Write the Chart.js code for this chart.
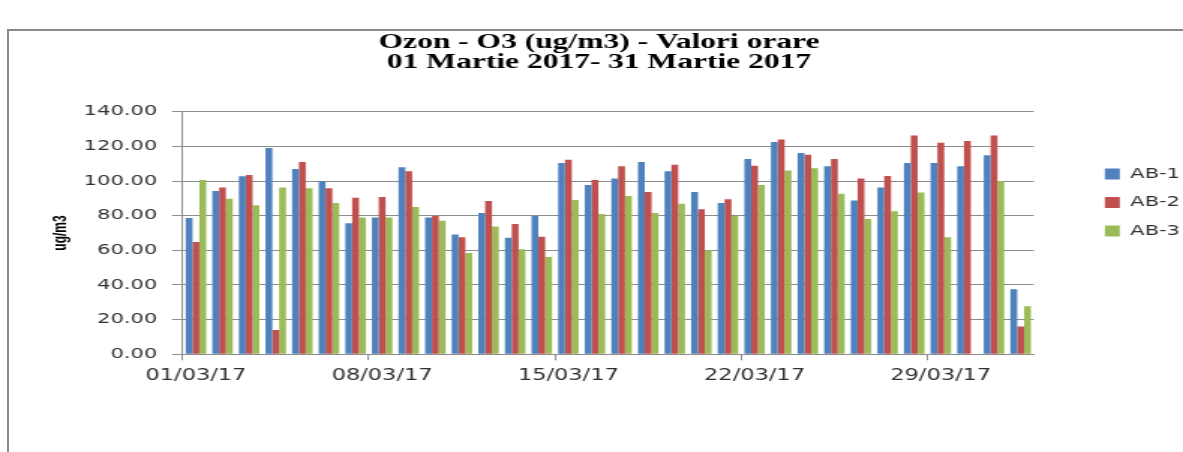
<!DOCTYPE html>
<html>
<head>
<meta charset="utf-8">
<script src="https://cdn.jsdelivr.net/npm/chart.js@4"></script>
<style>
  html, body { margin: 0; padding: 0; background: #fff; width: 1183px; height: 452px; overflow: hidden; }
  #frame { position: absolute; left: 7px; top: 29px; width: 1300px; height: 600px;
           border-left: 2px solid #8a8a8a; border-top: 2px solid #8a8a8a; }
  #wrap { position: absolute; left: 0; top: 0; width: 789px; height: 452px;
          transform: scaleX(1.49937); transform-origin: 0 0; }
  #c { display: block; }
</style>
</head>
<body>
<div id="frame"></div>
<div id="wrap"><canvas id="c" width="789" height="452" style="width:789px;height:452px"></canvas></div>
<script>
const categories = [
  '01/03/17','02/03/17','03/03/17','04/03/17','05/03/17','06/03/17','07/03/17',
  '08/03/17','09/03/17','10/03/17','11/03/17','12/03/17','13/03/17','14/03/17',
  '15/03/17','16/03/17','17/03/17','18/03/17','19/03/17','20/03/17','21/03/17',
  '22/03/17','23/03/17','24/03/17','25/03/17','26/03/17','27/03/17','28/03/17',
  '29/03/17','30/03/17','31/03/17','01/04/17'
];
const AB1 = [78.7, 94.2, 102.7, 119.0, 106.9, 100.0, 75.6, 79.0, 107.9, 79.0, 69.2,
             81.5, 67.3, 79.8, 110.4, 97.7, 101.5, 111.0, 105.6, 93.7, 87.3, 112.7,
             122.5, 116.2, 108.5, 88.8, 96.2, 110.4, 110.4, 108.5, 114.8, 37.5];
const AB2 = [64.8, 96.2, 103.5, 14.0, 111.0, 95.8, 90.4, 90.8, 105.6, 79.8, 67.5,
             88.5, 75.2, 67.9, 112.3, 100.6, 108.5, 93.7, 109.4, 83.7, 89.4, 108.8,
             124.0, 115.2, 112.7, 101.5, 102.9, 126.2, 122.1, 123.1, 126.2, 16.0];
const AB3 = [100.6, 89.8, 86.0, 96.2, 95.8, 87.3, 79.0, 79.0, 85.0, 77.1, 58.5,
             73.7, 60.6, 56.2, 89.0, 81.0, 91.3, 81.5, 86.9, 60.0, 79.8, 97.7,
             106.0, 107.3, 92.7, 78.1, 82.5, 93.3, 67.5, null, 100.0, 27.7];
const seriesNames = ['AB-1', 'AB-2', 'AB-3'];
const titleLines = ['Ozon - O3 (ug/m3) - Valori orare', '01 Martie 2017- 31 Martie 2017'];
const yAxisTitle = 'ug/m3';
const yMin = 0, yMax = 140, yStep = 20;
const xTickEvery = 7;

const colors = ['#4F81BD', '#C0504D', '#9BBB59'];
const gridColor = '#8c8c8c';
const textColor = '#303030';

new Chart(document.getElementById('c'), {
  type: 'bar',
  data: {
    labels: categories,
    datasets: [AB1, AB2, AB3].map((d, i) => ({
      label: seriesNames[i],
      data: d,
      backgroundColor: colors[i],
      borderWidth: 0,
      categoryPercentage: 0.77,
      barPercentage: 1.0,
      xAxisID: 'x',
      yAxisID: 'y'
    }))
  },
  options: {
    responsive: false,
    animation: false,
    devicePixelRatio: 1,
    layout: { padding: { left: 2, right: -8, top: 0, bottom: 0 } },
    plugins: {
      title: {
        display: true,
        text: titleLines,
        color: '#000',
        font: { family: 'Liberation Serif', weight: 'bold', size: 21, lineHeight: 0.952 },
        padding: { top: 33, bottom: 38.7 }
      },
      legend: {
        position: 'right',
        align: 'start',
        fullSize: false,
        title: { display: true, text: ' ', font: { size: 10, lineHeight: 1.0 }, padding: { top: 30.8, bottom: 0 } },
        labels: {
          boxWidth: 10,
          boxHeight: 11,
          padding: 14.5,
          color: textColor,
          font: { family: 'DejaVu Sans', size: 14, lineHeight: 1.2 }
        }
      },
      tooltip: { enabled: false }
    },
    scales: {
      x: {
        type: 'category',
        position: 'bottom',
        offset: true,
        afterFit(s) { s.height = 97.7; },
        grid: {
          display: true,
          offset: true,
          drawOnChartArea: false,
          drawTicks: true,
          tickLength: 6,
          color: (ctx) => (ctx.index % xTickEvery === 0 && ctx.index < categories.length) ? gridColor : 'rgba(0,0,0,0)'
        },
        border: { display: true, color: gridColor, width: 1 },
        ticks: {
          autoSkip: false,
          maxRotation: 0,
          minRotation: 0,
          padding: 7.3,
          color: textColor,
          font: { family: 'DejaVu Sans', size: 15, lineHeight: 1.2 },
          callback: (v, i) => (i % xTickEvery === 0) ? categories[i] : ''
        }
      },
      y: {
        type: 'linear',
        position: 'left',
        min: yMin,
        max: yMax,
        afterFit(s) { s.width = 119.8; },
        grid: { color: gridColor, tickLength: 7, lineWidth: 1 },
        border: { display: true, color: gridColor, width: 1 },
        ticks: {
          stepSize: yStep,
          padding: 10,
          color: textColor,
          font: { family: 'DejaVu Sans', size: 14 },
          callback: (v) => Number(v).toFixed(2)
        },
        title: {
          display: true,
          text: yAxisTitle,
          color: '#000',
          font: { family: "'Liberation Sans Narrow', 'Liberation Sans'", weight: 'bold', size: 12, lineHeight: 1.2 },
          padding: { top: 31.8, bottom: 0 }
        }
      },
      yr: {
        type: 'linear',
        position: 'right',
        display: true,
        afterFit(s) { s.width = 32.8; },
        grid: { display: false, drawTicks: false },
        border: { display: false },
        ticks: { display: false }
      }
    }
  }
});
</script>
</body>
</html>
